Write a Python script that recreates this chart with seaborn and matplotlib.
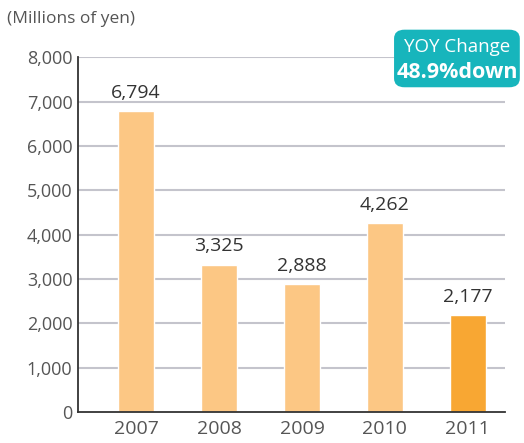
import matplotlib
matplotlib.use("Agg")
import matplotlib.pyplot as plt
from matplotlib.patches import FancyBboxPatch
import seaborn as sns
import pandas as pd

years = ["2007", "2008", "2009", "2010", "2011"]
values = [6794, 3325, 2888, 4262, 2177]
value_labels = ["6,794", "3,325", "2,888", "4,262", "2,177"]
y_ticks = [0, 1000, 2000, 3000, 4000, 5000, 6000, 7000, 8000]

LIGHT = "#FCC784"
DARK = "#F8A733"
TEAL = "#17B5BC"
GRID = "#C4C4CC"
TXT = "#555555"

sns.set_style("white")
plt.rcParams["font.family"] = ["Open Sans", "DejaVu Sans"]

df = pd.DataFrame({"year": years, "value": values})
palette = [LIGHT] * 4 + [DARK]

fig = plt.figure(figsize=(5.24, 4.43), dpi=100)
ax = fig.add_axes([0.149, 0.070, 0.815, 0.801])
ax.set_axisbelow(True)
for t in y_ticks[1:]:
    ax.axhline(t, color=GRID, lw=1.5, zorder=0)

sns.barplot(data=df, x="year", y="value", hue="year", palette=palette,
            width=0.43, legend=False, ax=ax, saturation=1)
for cont, lab in zip(ax.containers, value_labels):
    ax.bar_label(cont, labels=[lab], padding=6.5, fontsize=14, color="#333333")

ax.set_xlim(-0.7, 4.45)
ax.set_ylim(0, 8000)
ax.set_yticks(y_ticks)
ax.set_yticklabels([f"{v:,}" for v in y_ticks])
ax.tick_params(axis="y", labelsize=13, colors=TXT, length=0, pad=4)
ax.tick_params(axis="x", labelsize=14, colors=TXT, length=0, pad=6)
ax.set_xlabel("")
ax.set_ylabel("")
for s in ["top", "right"]:
    ax.spines[s].set_visible(False)
for s in ["left", "bottom"]:
    ax.spines[s].set_color("#333333")
    ax.spines[s].set_linewidth(1.3)

fig.text(0.013, 0.958, "(Millions of yen)", fontsize=12.5, color=TXT, va="center")

box = FancyBboxPatch((0.752, 0.803), 0.240, 0.130, transform=fig.transFigure,
                     boxstyle="round,pad=0,rounding_size=0.02", fc=TEAL, ec="none", zorder=5)
fig.patches.append(box)
fig.text(0.872, 0.895, "YOY Change", fontsize=13.5, color="white", ha="center", va="center", zorder=6)
fig.text(0.872, 0.836, "48.9%down", fontsize=15.5, fontweight="bold", color="white",
         ha="center", va="center", zorder=6)

fig.savefig("out.png", dpi=100)
